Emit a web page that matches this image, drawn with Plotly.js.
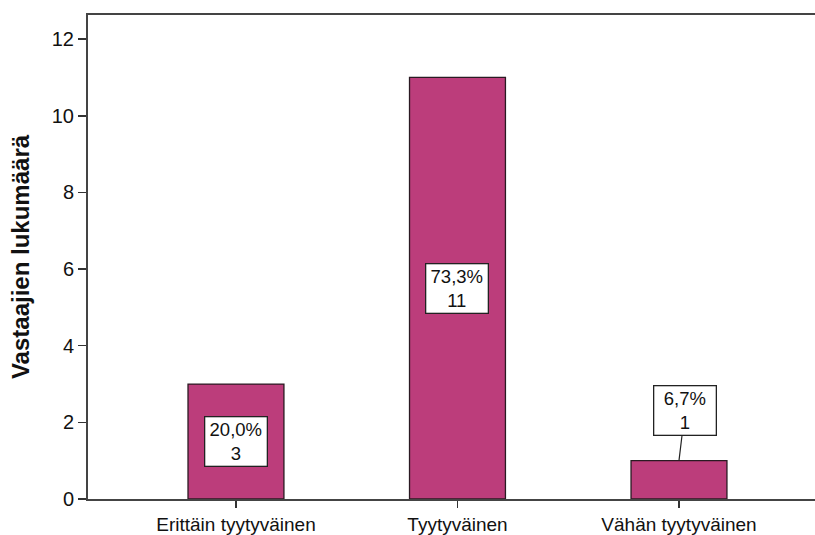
<!DOCTYPE html>
<html><head><meta charset="utf-8">
<script src="https://cdn.plot.ly/plotly-3.0.1.min.js"></script>
<style>body{margin:0;background:#fff}#c{width:815px;height:535px}</style>
</head><body><div id="c"></div>
<script>
var categories = ["Erittäin tyytyväinen", "Tyytyväinen", "Vähän tyytyväinen"];
var counts = [3, 11, 1];
var percents = ["20,0%", "73,3%", "6,7%"];
var yTicks = [0, 2, 4, 6, 8, 10, 12];

var annotations = categories.map(function(c, i) {
  var a = {
    x: c, xref: 'x', yref: 'y',
    text: percents[i] + '<br>' + counts[i],
    font: {family: 'Liberation Sans, Arial, sans-serif', size: 18.5, color: '#111'},
    bgcolor: '#fff', bordercolor: '#222', borderwidth: 1.3, borderpad: 0,
    width: 61, height: 48, align: 'center', valign: 'middle'
  };
  if (counts[i] >= 2) {
    a.y = counts[i] / 2; a.showarrow = false;
  } else {
    a.y = counts[i]; a.showarrow = true; a.arrowhead = 0; a.arrowwidth = 1.2;
    a.arrowcolor = '#222'; a.ax = 6; a.ay = -50; a.standoff = 0;
  }
  return a;
});

var trace = {
  type: 'bar', x: categories, y: counts, width: 0.433,
  marker: {color: '#BC3D7B', line: {color: '#2a1a22', width: 1.3}},
  hoverinfo: 'none'
};

var layout = {
  width: 815, height: 535,
  margin: {l: 88, r: 0, t: 15, b: 36},
  paper_bgcolor: '#fff', plot_bgcolor: '#fff',
  showlegend: false, bargap: 0,
  font: {family: 'Liberation Sans, Arial, sans-serif', size: 19, color: '#111'},
  xaxis: {
    range: [-0.668, 2.614], showgrid: false, zeroline: false,
    showline: true, linecolor: '#444', linewidth: 2, mirror: true,
    ticks: 'outside', ticklen: 7, tickwidth: 1.5, tickcolor: '#333',
    tickfont: {size: 19, color: '#111'}, fixedrange: true
  },
  yaxis: {
    range: [0, 12.63], tickvals: yTicks, showgrid: false, zeroline: false,
    showline: true, linecolor: '#444', linewidth: 2,
    ticks: 'outside', ticklen: 8, tickwidth: 1.5, tickcolor: '#333',
    tickfont: {size: 20, color: '#111'},
    title: {text: 'Vastaajien lukumäärä', font: {size: 24, color: '#111', weight: 'bold'}, standoff: 15}
  },
  annotations: annotations
};

Plotly.newPlot('c', [trace], layout, {displayModeBar: false, staticPlot: true});
</script></body></html>
